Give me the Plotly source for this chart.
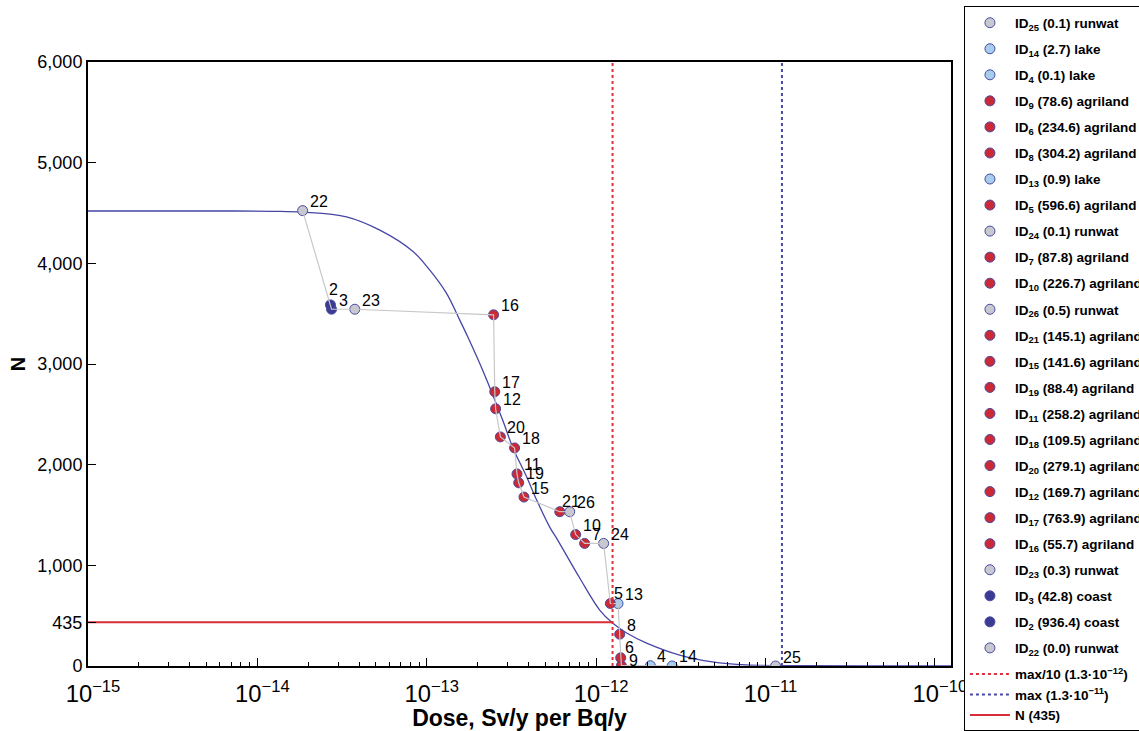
import math
import plotly.graph_objects as go

# ---- data (points sorted by increasing dose) ----
ids = [22, 2, 3, 23, 16, 17, 12, 20, 18, 11, 19, 15, 21, 26, 10, 7, 24, 5, 13, 8, 6, 9, 4, 14, 25]
values = [0.0, 936.4, 42.8, 0.3, 55.7, 763.9, 169.7, 279.1, 109.5, 258.2, 88.4, 141.6,
          145.1, 0.5, 226.7, 87.8, 0.1, 596.6, 0.9, 304.2, 234.6, 78.6, 0.1, 2.7, 0.1]
categories = ["runwat", "coast", "coast", "runwat", "agriland", "agriland", "agriland", "agriland",
              "agriland", "agriland", "agriland", "agriland", "agriland", "runwat", "agriland",
              "agriland", "runwat", "agriland", "lake", "agriland", "agriland", "agriland", "lake",
              "lake", "runwat"]
doses = [1.85e-14, 2.70e-14, 2.74e-14, 3.76e-14, 2.48e-13, 2.52e-13, 2.55e-13, 2.72e-13,
         3.30e-13, 3.41e-13, 3.49e-13, 3.75e-13, 6.10e-13, 6.98e-13, 7.57e-13, 8.55e-13,
         1.107e-12, 1.213e-12, 1.346e-12, 1.377e-12, 1.396e-12, 1.409e-12, 2.09e-12, 2.81e-12,
         1.146e-11]

# fitted curve (log10 dose, N)
curve_log_dose = [-15.0, -14.2, -13.9, -13.73, -13.474, -13.277, -13.083, -12.982, -12.884,
                  -12.805, -12.758, -12.670, -12.552, -12.493, -12.410, -12.351, -12.274,
                  -12.227, -12.097, -11.979, -11.903, -11.820, -11.702, -11.507, -11.313,
                  -11.112, -10.8, -10.4, -9.905]
curve_n = [4520, 4520, 4517, 4508, 4462, 4330, 4121, 3932, 3704, 3436, 3270, 2939, 2443, 2174,
           1877, 1648, 1380, 1251, 874, 556, 427, 328, 228, 109, 40, 10, 3, 1, 0]

max_dose = 1.25e-11
max10_dose = 1.25e-12
n_threshold = 435

y_tickvals = [0, 435, 1000, 2000, 3000, 4000, 5000, 6000]
y_ticktext = ["0", "435", "1,000", "2,000", "3,000", "4,000", "5,000", "6,000"]

# ---- styles ----
cat_colors = {"agriland": "#cc2936", "lake": "#a6cdee", "runwat": "#c8c8d0", "coast": "#3b3b94"}
label_shift_default = (5, 9)
label_shift = {2: (-3, 15), 21: (0, 10), 5: (2, 10), 6: (2, 10), 9: (6, 5)}

# N at each point: sum of values of all points with larger dose
n_vals = [sum(values[i + 1:]) for i in range(len(values))]

FONT = "Liberation Sans, Arial, Helvetica, sans-serif"

fig = go.Figure()

# curve
fig.add_trace(go.Scatter(x=[10 ** v for v in curve_log_dose], y=curve_n, mode="lines",
                         line=dict(color="#4646a6", width=1.3, shape="spline", smoothing=1.0),
                         showlegend=False, hoverinfo="skip", legendgroup="curve"))

# points (legend order: decreasing dose)
for i in reversed(range(len(ids))):
    fig.add_trace(go.Scatter(
        x=[doses[i]], y=[n_vals[i]], mode="markers",
        marker=dict(size=10, color=cat_colors[categories[i]],
                    line=dict(color="#4a4aa0", width=1)),
        name=f"ID<sub>{ids[i]}</sub> ({values[i]:.1f}) {categories[i]}",
        legendgroup=f"g{ids[i]}",
    ))

# connecting line (drawn above markers)
fig.add_trace(go.Scatter(x=doses, y=n_vals, mode="lines",
                         line=dict(color="#c8c8c8", width=1.2),
                         showlegend=False, hoverinfo="skip", legendgroup="conn"))

# reference lines
fig.add_trace(go.Scatter(x=[max10_dose, max10_dose], y=[0, 6000], mode="lines",
                         line=dict(color="#e0303c", width=2, dash="dot"),
                         name="max/10 (1.3·10<sup>−12</sup>)", legendgroup="lines"))
fig.add_trace(go.Scatter(x=[max_dose, max_dose], y=[0, 6000], mode="lines",
                         line=dict(color="#4848a8", width=2, dash="dot"),
                         name="max (1.3·10<sup>−11</sup>)", legendgroup="lines"))
fig.add_trace(go.Scatter(x=[1e-15, max10_dose], y=[n_threshold, n_threshold], mode="lines",
                         line=dict(color="#d82c38", width=2),
                         name=f"N ({n_threshold})", legendgroup="lines"))

# point labels
for i in range(len(ids)):
    dx, dy = label_shift.get(ids[i], label_shift_default)
    fig.add_annotation(x=math.log10(doses[i]), y=n_vals[i], xref="x", yref="y",
                       text=str(ids[i]), showarrow=False, xanchor="left", yanchor="middle",
                       xshift=dx, yshift=dy, font=dict(size=16, color="black", family=FONT))

fig.update_layout(
    width=1139, height=731, autosize=False,
    margin=dict(l=88, r=188, t=62, b=65, pad=0, autoexpand=False),
    paper_bgcolor="white", plot_bgcolor="white",
    font=dict(family=FONT, color="black"),
    legend=dict(x=1.015, y=1.092, xanchor="left", yanchor="top", maxheight=900,
                bordercolor="black", borderwidth=1, bgcolor="white",
                font=dict(size=13.5, family=FONT, weight="bold"),
                tracegroupgap=5.5, itemwidth=40, traceorder="grouped"),
    xaxis=dict(type="log", range=[-15, -9.905], dtick=1, exponentformat="power",
               automargin=False,
               showgrid=False, zeroline=False, showline=True, linecolor="black", linewidth=2,
               mirror=True, ticks="inside", ticklen=8, tickcolor="black",
               minor=dict(ticks="inside", ticklen=4, tickcolor="black", showgrid=False),
               tickfont=dict(size=19, family=FONT), ticklabelstandoff=6, ticklabelshift=5,
               title=dict(text="<b>Dose, Sv/y per Bq/y</b>", font=dict(size=23, family=FONT),
                          standoff=10)),
    yaxis=dict(range=[0, 6000], tickvals=y_tickvals, ticktext=y_ticktext, automargin=False,
               showgrid=False, zeroline=False, showline=True, linecolor="black", linewidth=2,
               mirror=True, ticks="inside", ticklen=8, tickcolor="black",
               tickfont=dict(size=18, family=FONT),
               title=dict(text="<b>N</b>", font=dict(size=20, family=FONT), standoff=6)),
)

fig.write_html("out.html", config={"displayModeBar": False, "responsive": False},
               post_script="document.body.style.margin='0';")
